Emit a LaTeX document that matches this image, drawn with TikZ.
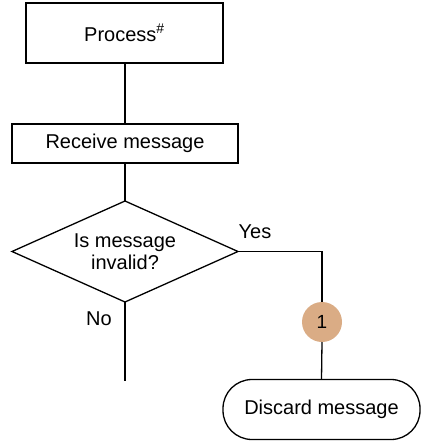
\documentclass[tikz,border=0pt]{standalone}
\usepackage{fontspec}
\setmainfont{Liberation Sans}
\usetikzlibrary{shapes.geometric}
\begin{document}
\begin{tikzpicture}[x=1pt,y=-1pt,line width=1.3pt,
  every node/.style={font=\fontsize{20}{22}\selectfont, inner sep=0pt, outer sep=0pt},
  procbox/.style={draw, rectangle, minimum width=#1},
  decision/.style={draw, diamond, aspect=2.26, minimum width=226pt, minimum height=101pt, align=center},
  terminal/.style={draw, rectangle, rounded corners=29pt, minimum width=197pt, minimum height=60pt},
  marker/.style={circle, fill={rgb,255:red,218;green,172;blue,133}, minimum size=40pt, font=\fontsize{19}{21}\selectfont},
  lbl/.style={font=\fontsize{20}{22}\selectfont}]
\useasboundingbox (0,0) rectangle (421,441);

\node[procbox=197pt, minimum height=60pt] (proc) at (124.5,33) {Process\textsuperscript{\#}};
\node[procbox=226pt, minimum height=39pt] (recv) at (125,143.5) {Receive message};
\node[decision] (dec) at (125,251.5) {Is message\\invalid?};
\coordinate (noend) at (125,381);
\coordinate (bend) at (322,251.5);
\node[marker] (m1) at (322,322) {1};
\node[terminal] (disc) at (321.5,409.5) {Discard message};

\draw (proc.south -| recv.north) -- (recv.north);
\draw (recv.south) -- (dec.north);
\draw (dec.south) -- (noend);
\draw (dec.east) -- (bend) -- (m1.north);
\draw (m1.south) -- (disc.north);

\node[lbl] (yes) at (255,232) {Yes};
\node[lbl] (no) at (99,319) {No};
\end{tikzpicture}
\end{document}
